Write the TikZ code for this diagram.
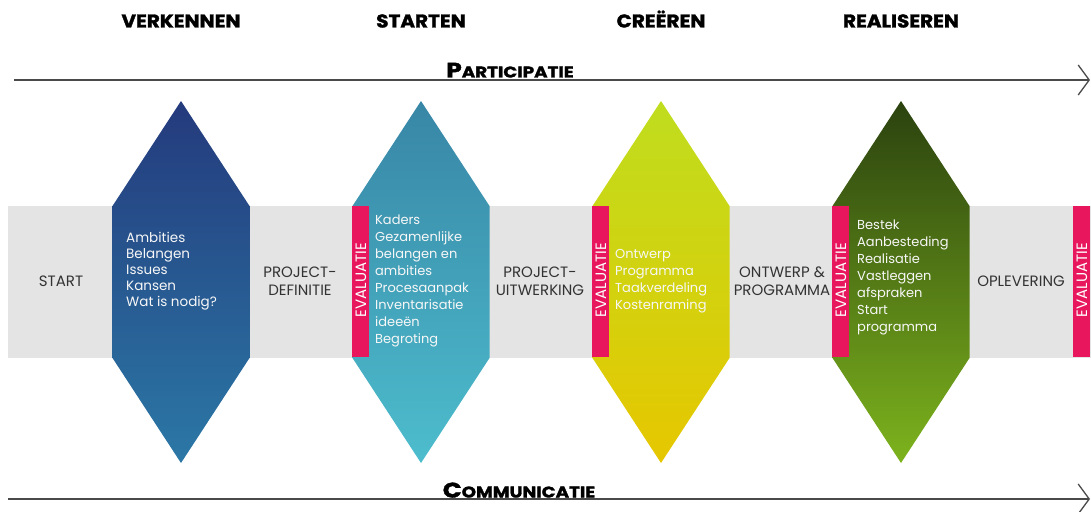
\documentclass[tikz,border=0pt]{standalone}
\usepackage{fontspec}
\setmainfont{Poppins}
\newfontfamily\heavyfont{Poppins}[UprightFont=* Bold, FakeBold=1.6, FakeStretch=1.08]
\newfontfamily\axisfont{Poppins}[UprightFont=* Bold, FakeBold=1.8, FakeStretch=1.18]
\usetikzlibrary{arrows.meta}
\definecolor{band}{HTML}{E4E4E4}
\definecolor{evalpink}{HTML}{E8175D}
\definecolor{axis}{HTML}{4A4A4A}
\definecolor{bandtext}{HTML}{333333}
\definecolor{hAt}{HTML}{243A7C}\definecolor{hAb}{HTML}{2B78A6}
\definecolor{hBt}{HTML}{3886A6}\definecolor{hBb}{HTML}{4DBDCD}
\definecolor{hCt}{HTML}{BFDD1E}\definecolor{hCb}{HTML}{E6C700}
\definecolor{hDt}{HTML}{2B420F}\definecolor{hDb}{HTML}{7DB31D}
\tikzset{
  phase/.style={font=\heavyfont\fontsize{18.5}{18.5}\selectfont, text=black, inner sep=0pt, anchor=base},
  axisline/.style={draw=axis, line width=2pt, -{Straight Barb[length=11pt,width=30pt,line width=1.3pt]}},
  bandlabel/.style={font=\fontsize{15}{18}\selectfont, text=bandtext, align=center, inner sep=0pt},
  hextext/.style={font=\fontsize{13}{17}\selectfont, text=white!94!gray, align=left, anchor=west, inner sep=0pt},
  evalbar/.style={fill=evalpink, draw=none},
  evaltext/.style={font=\fontsize{15}{15}\selectfont, text=white, rotate=90, inner sep=0pt}
}
\newcommand{\hexagon}[3]{%
  \shade[top color=#2, bottom color=#3] (#1,101) -- (#1+68.5,206) -- (#1+68.5,358) -- (#1,463) -- (#1-68.5,358) -- (#1-68.5,206) -- cycle;}
\begin{document}
\begin{tikzpicture}[x=1pt,y=-1pt]
\useasboundingbox (0,0) rectangle (1091,511);
% headings
\node[phase] (h1) at (181,27.5) {VERKENNEN};
\node[phase] (h2) at (421,27.5) {STARTEN};
\node[phase] (h3) at (661,27.5) {CREËREN};
\node[phase] (h4) at (901,27.5) {REALISEREN};
% participatie axis
\coordinate (pa) at (14,80);
\coordinate (pb) at (1090,80);
\draw[axisline] (pa) -- (pb);
\node[inner sep=0pt, anchor=base, font=\axisfont] (part) at (510,77.5) {{\fontsize{21}{21}\selectfont P}{\fontsize{15.5}{15.5}\selectfont ARTICIPATIE}};
% band
\fill[band] (8,206) rectangle (1091,358);
% hexagons
\hexagon{181}{hAt}{hAb}
\hexagon{421}{hBt}{hBb}
\hexagon{661}{hCt}{hCb}
\hexagon{901}{hDt}{hDb}
% evaluation bars
\foreach \x/\n in {352/e1,592/e2,832/e3,1073/e4}{
  \fill[evalbar] (\x,206) rectangle (\x+17,357);
  \node[evaltext] (\n) at (\x+9,280) {EVALUATIE};
}
% band labels
\node[bandlabel] (l1) at (61,281) {START};
\node[bandlabel] (l2) at (300,281) {PROJECT-\\DEFINITIE};
\node[bandlabel] (l3) at (540,281) {PROJECT-\\UITWERKING};
\node[bandlabel] (l4) at (782,281) {ONTWERP \&\\PROGRAMMA};
\node[bandlabel] (l5) at (1021,281) {OPLEVERING};
% hexagon texts
\node[hextext, font=\fontsize{13.5}{16}\selectfont] (t1) at (126,271) {Ambities\\Belangen\\Issues\\Kansen\\Wat is nodig?};
\node[hextext] (t2) at (375,281) {Kaders\\Gezamenlijke\\belangen en\\ambities\\Procesaanpak\\Inventarisatie\\ideeën\\Begroting};
\node[hextext] (t3) at (615,281.5) {Ontwerp\\Programma\\Taakverdeling\\Kostenraming};
\node[hextext] (t4) at (857,277) {Bestek\\Aanbesteding\\Realisatie\\Vastleggen\\afspraken\\Start\\programma};
% communicatie axis
\coordinate (ca) at (8,499);
\coordinate (cb) at (1090,499);
\draw[axisline] (ca) -- (cb);
\node[inner sep=0pt, anchor=base, font=\axisfont] (comm) at (519,497.5) {{\fontsize{21}{21}\selectfont C}{\fontsize{15.5}{15.5}\selectfont OMMUNICATIE}};
\end{tikzpicture}
\end{document}
